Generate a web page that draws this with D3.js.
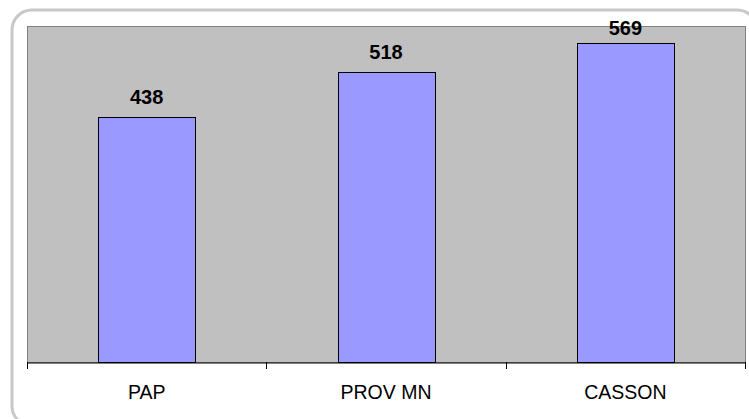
<!DOCTYPE html>
<html>
<head>
<meta charset="utf-8">
<script src="https://cdn.jsdelivr.net/npm/d3@7/dist/d3.min.js"></script>
<style>
  html, body { margin: 0; padding: 0; background: #ffffff; }
  svg { display: block; }
</style>
</head>
<body>
<svg id="chart" width="749" height="419"></svg>
<script>
const categories = ["PAP", "PROV MN", "CASSON"];
const values = [438, 518, 569];
const yDomain = [0, 600];

const W = 749, H = 419;
const plot = { left: 27, top: 26, right: 745, bottom: 362 };

const svg = d3.select("#chart");

// outer rounded frame (extends past the right/bottom edges)
svg.append("rect")
  .attr("x", 12).attr("y", 10)
  .attr("width", 745).attr("height", 416)
  .attr("rx", 20).attr("ry", 20)
  .attr("fill", "#ffffff")
  .attr("stroke", "#c8c8c8")
  .attr("stroke-width", 3);

const x = d3.scaleBand().domain(categories).range([plot.left, plot.right]).padding(0);
const y = d3.scaleLinear().domain(yDomain).range([plot.bottom, plot.top]);

// plot area
svg.append("rect")
  .attr("x", plot.left + 0.5).attr("y", plot.top + 0.5)
  .attr("width", plot.right - plot.left).attr("height", plot.bottom - plot.top)
  .attr("fill", "#c0c0c0")
  .attr("stroke", "#808080")
  .attr("stroke-width", 1);

const barW = x.bandwidth() * 0.405;

svg.append("g").selectAll("rect")
  .data(categories)
  .join("rect")
  .attr("x", (d) => Math.round(x(d) + (x.bandwidth() - barW) / 2) + 0.5)
  .attr("y", (d, i) => Math.round(y(values[i])) + 0.5)
  .attr("width", Math.round(barW))
  .attr("height", (d, i) => Math.round(y(0)) - Math.round(y(values[i])))
  .attr("fill", "#9999ff")
  .attr("stroke", "#000000")
  .attr("stroke-width", 1);

// value labels
svg.append("g").selectAll("text")
  .data(categories)
  .join("text")
  .attr("x", (d) => x(d) + x.bandwidth() / 2)
  .attr("y", (d, i) => Math.max(y(values[i]) - 13, plot.top + 9))
  .attr("text-anchor", "middle")
  .attr("font-family", "Liberation Sans, Arial, sans-serif")
  .attr("font-weight", "bold")
  .attr("font-size", 20)
  .attr("fill", "#000000")
  .text((d, i) => values[i]);

// x axis
const axis = d3.axisBottom(x)
  .tickSizeInner(0).tickSizeOuter(0).tickPadding(0);
const gx = svg.append("g")
  .attr("transform", `translate(0,${plot.bottom + 0.5})`)
  .call(axis);
gx.select(".domain").attr("stroke", "#000000").attr("stroke-width", 1);
gx.selectAll(".tick line").remove();
gx.selectAll(".tick text")
  .attr("y", 36)
  .attr("dy", 0)
  .attr("font-family", "Liberation Sans, Arial, sans-serif")
  .attr("font-size", 19.5)
  .attr("fill", "#000000");

// category boundary ticks
const boundaries = categories.map((d) => x(d)).concat([plot.right]);
svg.append("g").selectAll("line")
  .data(boundaries)
  .join("line")
  .attr("x1", (d) => Math.round(d) + 0.5)
  .attr("x2", (d) => Math.round(d) + 0.5)
  .attr("y1", plot.bottom)
  .attr("y2", plot.bottom + 7)
  .attr("stroke", "#000000")
  .attr("stroke-width", 1);
</script>
</body>
</html>
